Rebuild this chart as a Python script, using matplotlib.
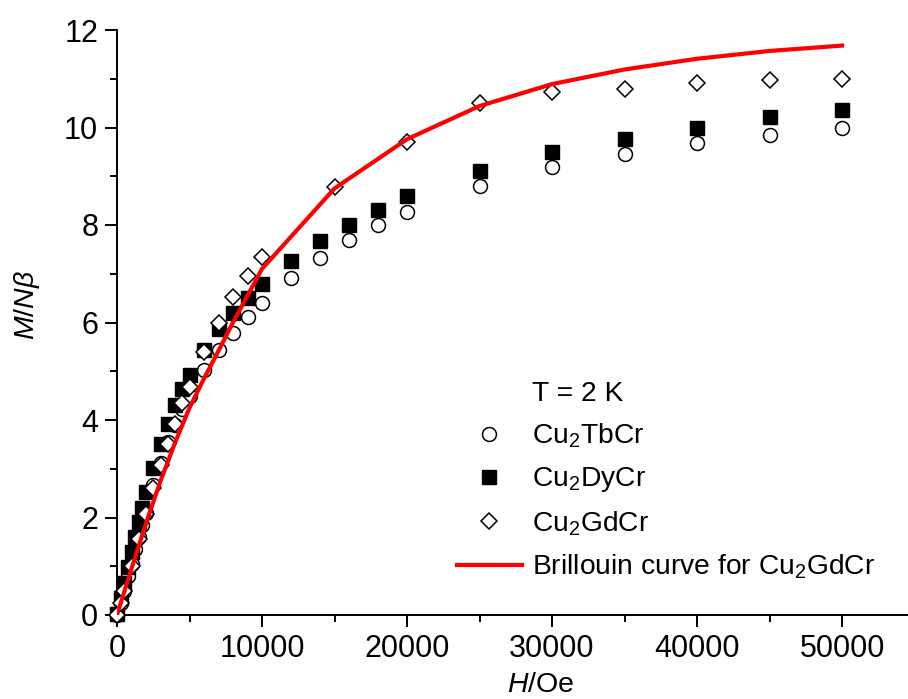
import matplotlib
matplotlib.use('Agg')
import matplotlib.pyplot as plt
import matplotlib.ticker as mticker
from matplotlib.lines import Line2D

plt.rcParams['font.family'] = 'Liberation Sans'
plt.rcParams['mathtext.fontset'] = 'custom'
plt.rcParams['mathtext.rm'] = 'Liberation Sans'
plt.rcParams['mathtext.it'] = 'Liberation Sans:italic'

# field values (Oe)
H_tb_dy = [0, 250, 500, 750, 1000, 1250, 1500, 1750, 2000, 2500, 3000, 3500, 4000, 4500,
           5000, 6000, 7000, 8000, 9000, 10000, 12000, 14000, 16000, 18000, 20000,
           25000, 30000, 35000, 40000, 45000, 50000]
M_tb = [0.0, 0.25, 0.5, 0.8, 1.05, 1.35, 1.6, 1.85, 2.1, 2.67, 3.12, 3.55, 3.9, 4.22,
        4.5, 5.02, 5.44, 5.79, 6.12, 6.39, 6.91, 7.32, 7.69, 8.0, 8.26,
        8.81, 9.18, 9.46, 9.68, 9.84, 9.98]
M_dy = [0.02, 0.35, 0.65, 0.99, 1.30, 1.61, 1.91, 2.20, 2.52, 3.01, 3.50, 3.92, 4.31, 4.64,
        4.92, 5.43, 5.86, 6.20, 6.51, 6.79, 7.27, 7.67, 8.01, 8.31, 8.59,
        9.11, 9.49, 9.77, 10.0, 10.22, 10.36]

H_gd = [0, 250, 500, 1000, 1500, 2000, 2500, 3000, 3500, 4000, 4500, 5000, 6000, 7000,
        8000, 9000, 10000, 15000, 20000, 25000, 30000, 35000, 40000, 45000, 50000]
M_gd = [0.0, 0.25, 0.5, 1.0, 1.55, 2.07, 2.6, 3.08, 3.5, 3.92, 4.35, 4.68, 5.40, 6.0,
        6.52, 6.95, 7.35, 8.77, 9.71, 10.5, 10.73, 10.8, 10.91, 10.97, 11.0]

# Brillouin curve
H_br = [0, 1000, 2000, 3000, 4000, 5000, 6000, 7000, 8000, 9000, 10000,
        15000, 20000, 25000, 30000, 35000, 40000, 45000, 50000]
M_br = [0, 0.95, 1.88, 2.75, 3.53, 4.25, 4.85, 5.42, 6.0, 6.55, 7.1,
        8.75, 9.76, 10.44, 10.89, 11.19, 11.41, 11.57, 11.68]

fig = plt.figure(figsize=(9.08, 6.99), dpi=100)
ax = fig.add_axes([117/908, 84/699, 791/908, 585/699])

ax.plot(H_tb_dy, M_tb, 'o', ms=10, mfc='white', mec='black', mew=1.1, clip_on=False,
        label='Cu$_2$TbCr', zorder=3)
ax.plot(H_tb_dy, M_dy, 's', ms=9.4, mfc='black', mec='black', mew=1.0, clip_on=False,
        label='Cu$_2$DyCr', zorder=3)
ax.plot(H_gd, M_gd, 'D', ms=8.6, mfc='white', mec='black', mew=1.1, clip_on=False,
        label='Cu$_2$GdCr', zorder=3)
ax.plot(H_br, M_br, '-', color='#ff0000', lw=3, label='Brillouin curve for Cu$_2$GdCr', zorder=4)

ax.set_xlim(0, 54550)
ax.set_ylim(0, 12)
ax.spines['top'].set_visible(False)
ax.spines['right'].set_visible(False)
for s in ['left', 'bottom']:
    ax.spines[s].set_linewidth(1.4)

ax.xaxis.set_major_locator(mticker.MultipleLocator(10000))
ax.xaxis.set_minor_locator(mticker.MultipleLocator(5000))
ax.yaxis.set_major_locator(mticker.MultipleLocator(2))
ax.yaxis.set_minor_locator(mticker.MultipleLocator(1))
ax.tick_params(which='major', direction='out', length=8.5, width=1.4, labelsize=22, pad=5)
ax.tick_params(which='minor', direction='out', length=5, width=1.4)

ax.set_xlabel('$H$/Oe', fontsize=20.5)
ax.set_ylabel(r'$M$/$N\beta$', fontsize=20.5)
ax.xaxis.set_label_coords(0.535, -0.097)
ax.yaxis.set_label_coords(-0.095, 0.53)

handles, labels = ax.get_legend_handles_labels()
title_h = Line2D([], [], linestyle='none')
leg = ax.legend([title_h] + handles, ['T = 2 K'] + labels, loc='upper left',
                bbox_to_anchor=(457/908, 1 - 381/699), bbox_transform=fig.transFigure,
                frameon=False, fontsize=20.3, handlelength=2.3, handletextpad=0.36,
                borderpad=0, borderaxespad=0, labelspacing=0.53)

fig.savefig('out.png', dpi=100)
